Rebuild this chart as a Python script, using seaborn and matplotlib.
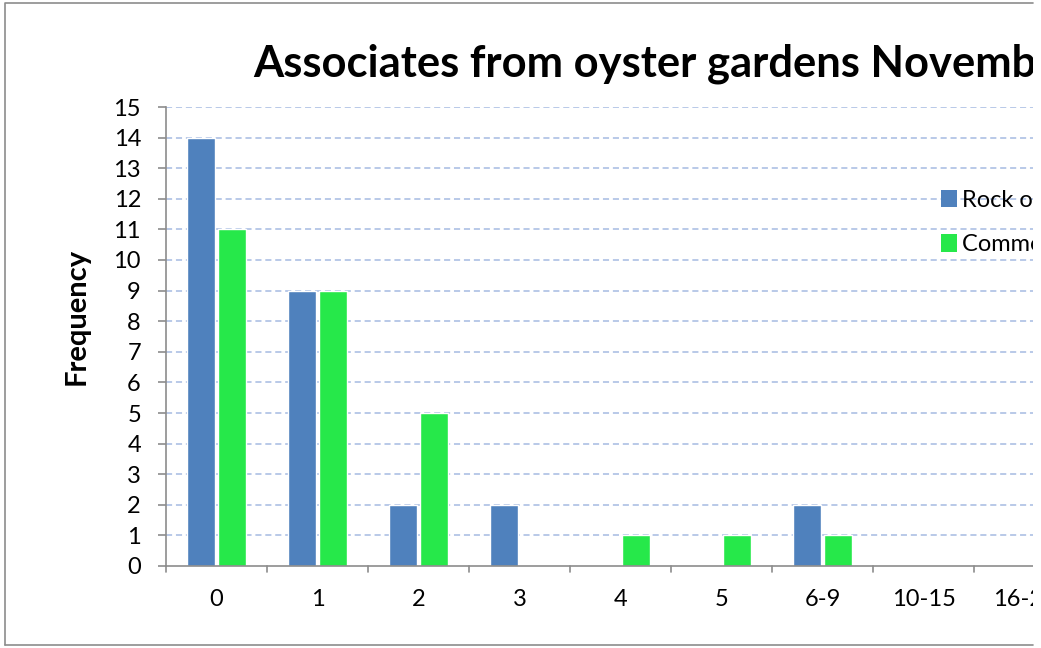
import pandas as pd
import seaborn as sns
import matplotlib.pyplot as plt
from matplotlib.patches import Patch, Rectangle
from matplotlib.lines import Line2D

# values
categories = ["0", "1", "2", "3", "4", "5", "6-9", "10-15", "16-20"]
rock_oyster = [14, 9, 2, 2, 0, 0, 2, 0, 0]
common_oyster = [11, 9, 5, 0, 1, 1, 1, 0, 0]
series_names = ["Rock oyster", "Common oyster"]
colors = ["#4f81bd", "#26e84a"]

df = pd.DataFrame({
    "cat": categories * 2,
    "freq": rock_oyster + common_oyster,
    "series": [series_names[0]] * len(categories) + [series_names[1]] * len(categories),
})

sns.set_style("white")
plt.rcParams["font.family"] = ["Lato", "DejaVu Sans"]
plt.rcParams["text.color"] = "black"
plt.rcParams["xtick.labelcolor"] = "black"
plt.rcParams["ytick.labelcolor"] = "black"

fig = plt.figure(figsize=(10.41, 6.48), dpi=100)
ax = fig.add_axes([166 / 1041, 1 - 566 / 648, 909 / 1041, (566 - 107) / 648])

sns.barplot(data=df, x="cat", y="freq", hue="series", palette=colors,
            width=0.61, gap=0.1, ax=ax, legend=False, saturation=1)

ax.set_ylim(0, 15)
ax.set_xlim(-0.5, len(categories) - 0.5)
ax.set_yticks(range(0, 16))
ax.set_xlabel("")
ax.set_ylabel("")

for y in range(1, 16):
    ax.axhline(y, color="#a6bbe2", lw=1.1, ls=(0, (4, 2.5)), zorder=0)

for s in ["top", "right"]:
    ax.spines[s].set_visible(False)
for s in ["left", "bottom"]:
    ax.spines[s].set_color("#8c8c8c")
    ax.spines[s].set_linewidth(1.2)

ax.tick_params(axis="y", labelsize=17, length=6, color="#8c8c8c", width=1.2, left=True, pad=12,
               labelcolor="black")
ax.tick_params(axis="x", labelsize=17, bottom=False, pad=13, labelcolor="black")
# category boundary ticks on x
for b in range(0, len(categories) + 1):
    ax.add_line(Line2D([b - 0.5, b - 0.5], [0, -0.2], color="#8c8c8c", lw=1.2,
                       clip_on=False, transform=ax.transData))

fig.text(77 / 1041, 1 - 316 / 648, "Frequency", fontsize=21, fontweight="bold",
         rotation=90, ha="center", va="center", color="black")

handles = [Patch(facecolor=c, edgecolor="none") for c in colors]
fig.legend(handles, series_names, loc="upper left", bbox_to_anchor=(924 / 1041, 1 - 173 / 648),
           frameon=False, fontsize=17, handlelength=0.68, handleheight=0.75,
           handletextpad=0.22, labelspacing=1.0, borderpad=0.2, labelcolor="black")

fig.text(253 / 1041, 1 - 77 / 648, "Associates from oyster gardens November 2011",
         fontsize=31.3, fontweight="bold", ha="left", va="baseline", color="black")

# outer chart frame
fig.add_artist(Rectangle((1033 / 1041, 0), 8 / 1041, 1, transform=fig.transFigure,
                         facecolor="white", edgecolor="none", zorder=10))
fig.add_artist(Line2D([5 / 1041, 5 / 1041, 1033 / 1041], [1 - 645 / 648, 1 - 3 / 648, 1 - 3 / 648],
                      transform=fig.transFigure, color="#8c8c8c", lw=1.2, zorder=11))
fig.add_artist(Line2D([5 / 1041, 1033 / 1041], [1 - 645 / 648, 1 - 645 / 648],
                      transform=fig.transFigure, color="#8c8c8c", lw=1.2, zorder=11))

fig.savefig("out.png", dpi=100)
